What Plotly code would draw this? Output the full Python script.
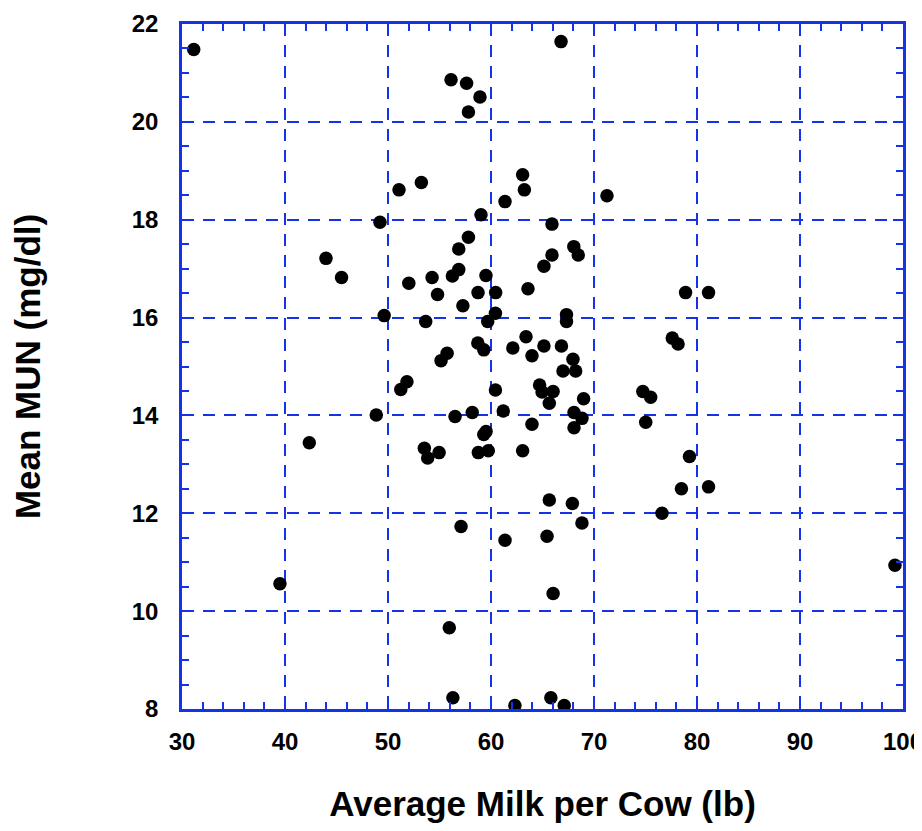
import plotly.graph_objects as go

milk = [31.14, 66.80, 56.12, 57.63, 58.93, 57.81, 63.07, 63.24, 61.36, 71.26,
        51.07, 53.24, 49.22, 59.03, 65.92, 57.81, 56.87, 68.04, 65.92, 68.47,
        65.14, 43.98, 45.49, 56.87, 56.25, 54.28, 52.02, 59.51, 63.59, 54.81,
        58.74, 60.45, 78.89, 81.12, 49.63, 53.66, 57.27, 59.68, 60.43, 67.33,
        67.33, 63.40, 77.60, 78.16, 55.74, 55.15, 58.72, 59.30, 62.12, 63.98,
        65.14, 66.84, 67.96, 66.99, 68.22, 51.84, 51.24, 60.43, 64.72, 64.96,
        66.03, 74.74, 75.50, 68.99, 65.66, 48.86, 56.51, 58.18, 61.19, 68.06,
        68.83, 63.98, 68.06, 75.02, 59.52, 59.30, 42.36, 53.53, 53.85, 54.96,
        58.77, 59.74, 63.07, 79.27, 78.49, 81.12, 65.66, 67.90, 76.60, 57.09,
        68.83, 61.36, 65.44, 99.22, 39.51, 66.03, 55.95, 56.30, 65.81, 62.32,
        67.11]
mun = [21.48, 21.64, 20.86, 20.79, 20.51, 20.20, 18.92, 18.61, 18.37, 18.49,
       18.61, 18.76, 17.95, 18.10, 17.91, 17.64, 17.40, 17.45, 17.28, 17.28,
       17.05, 17.21, 16.82, 16.98, 16.85, 16.82, 16.70, 16.86, 16.59, 16.47,
       16.51, 16.51, 16.51, 16.51, 16.04, 15.92, 16.24, 15.92, 16.09, 16.06,
       15.92, 15.61, 15.58, 15.46, 15.27, 15.12, 15.48, 15.34, 15.38, 15.22,
       15.42, 15.42, 15.15, 14.91, 14.91, 14.69, 14.53, 14.52, 14.62, 14.48,
       14.49, 14.49, 14.37, 14.34, 14.25, 14.01, 13.98, 14.06, 14.09, 14.06,
       13.94, 13.82, 13.75, 13.86, 13.67, 13.61, 13.44, 13.33, 13.13, 13.24,
       13.24, 13.28, 13.28, 13.16, 12.50, 12.54, 12.27, 12.20, 12.00, 11.73,
       11.80, 11.45, 11.53, 10.94, 10.56, 10.36, 9.66, 8.23, 8.23, 8.07,
       8.07]

x_ticks = [30, 40, 50, 60, 70, 80, 90, 100]
y_ticks = [8, 10, 12, 14, 16, 18, 20, 22]

BLUE = "#1432E6"
FONT = "Liberation Sans"

fig = go.Figure(go.Scatter(
    x=milk, y=mun, mode="markers",
    marker=dict(color="black", size=13.5, line=dict(width=0)),
    showlegend=False,
))

axis_common = dict(
    showline=True, linecolor=BLUE, linewidth=2.5, mirror="allticks",
    ticks="inside", ticklen=10, tickwidth=2, tickcolor=BLUE,
    showgrid=True, gridcolor=BLUE, gridwidth=2, griddash="12px,9px",
    zeroline=False, ticklabeloverflow="allow",
    tickfont=dict(family=FONT, size=24, color="black", weight="bold"),
)

fig.update_xaxes(
    range=[30, 100], tickvals=x_ticks, ticktext=[str(v) for v in x_ticks],
    minor=dict(dtick=2, tick0=30, ticks="inside", ticklen=7, tickwidth=2,
               tickcolor=BLUE, showgrid=False),
    ticklabelstandoff=9,
    title=dict(text="Average Milk per Cow (lb)", standoff=39,
               font=dict(family=FONT, size=35, color="black", weight="bold")),
    **axis_common,
)
fig.update_yaxes(
    range=[8, 22], tickvals=y_ticks, ticktext=[str(v) for v in y_ticks],
    minor=dict(dtick=0.5, tick0=8, ticks="inside", ticklen=7, tickwidth=2,
               tickcolor=BLUE, showgrid=False),
    ticklabelstandoff=16,
    title=dict(text="Mean MUN (mg/dl)", standoff=92,
               font=dict(family=FONT, size=35, color="black", weight="bold")),
    **axis_common,
)

fig.update_layout(
    width=922, height=815,
    margin=dict(l=174, r=27, t=16, b=114, autoexpand=False),
    plot_bgcolor="white", paper_bgcolor="white",
)

fig.write_html("out.html")
